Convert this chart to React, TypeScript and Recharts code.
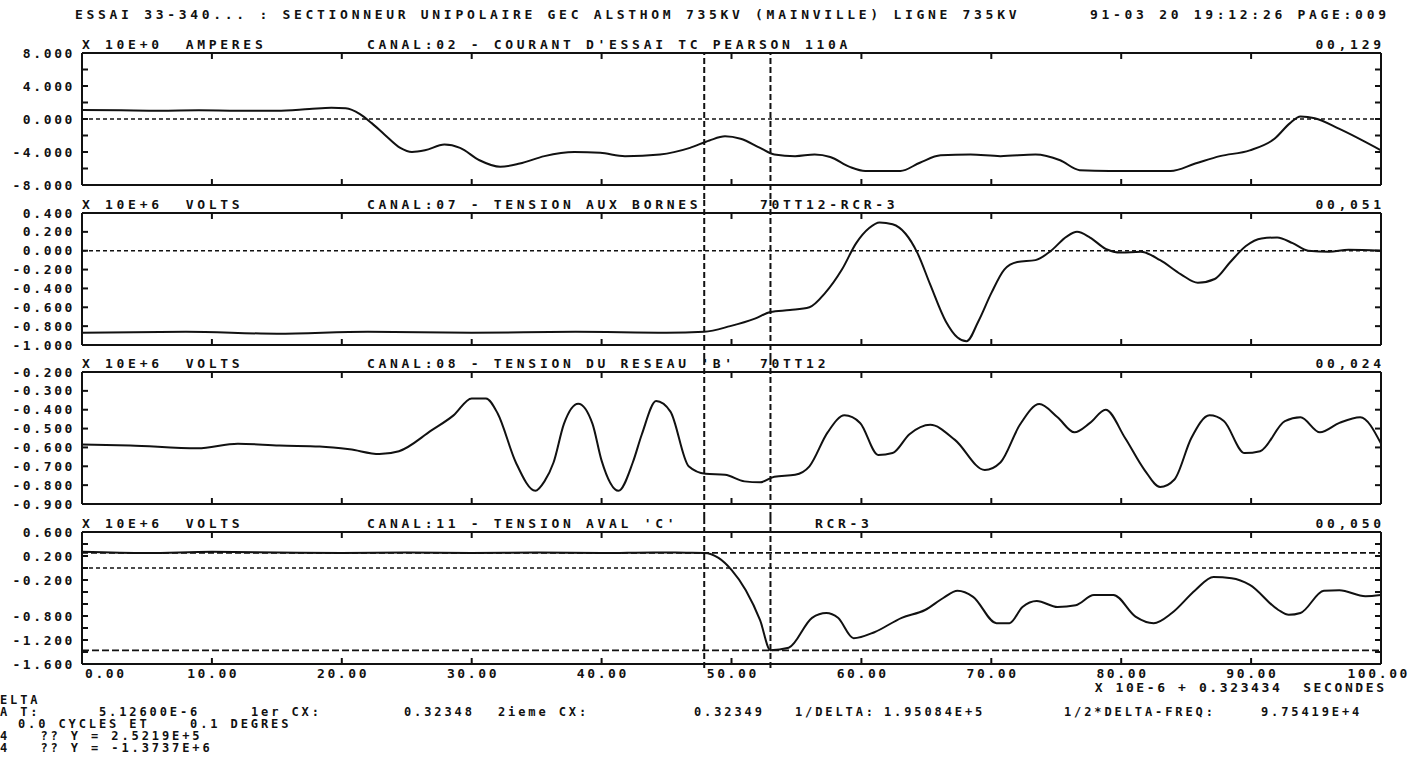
import React from 'react';
import { LineChart, Line, XAxis, YAxis, ReferenceLine } from 'recharts';

// ---------- data ----------
const X_TICKS = [0, 10, 20, 30, 40, 50, 60, 70, 80, 90, 100];
const CURSORS = [47.9, 53.0];
const CURSOR1_Y = 0.25219;
const CURSOR2_Y = -1.3737;

// CANAL:02 courant (A)
const ch02X = [0, 3, 6, 9, 12, 15, 17.5, 19.2, 20.3, 21.4, 22.3, 23.3, 24.5, 25.4, 26.4, 27.9, 29.1, 30.6, 32.2, 33.7, 35.6, 37.9, 39.9, 41.8, 44.5, 46.8, 48.3, 49.5, 50.7, 52.2, 53.3, 54.9, 56.4, 57.6, 59.1, 60.3, 63.0, 64.5, 66.1, 68.4, 70.7, 73.4, 75.3, 76.8, 79.1, 83.8, 85.7, 87.6, 89.9, 91.8, 93.0, 93.8, 94.9, 96.8, 100];
const ch02Y = [1.1, 1.05, 1.0, 1.05, 1.0, 1.0, 1.2, 1.35, 1.3, 0.6, -0.5, -1.9, -3.5, -4.0, -3.8, -3.1, -3.5, -5.0, -5.8, -5.4, -4.5, -4.0, -4.1, -4.5, -4.3, -3.5, -2.6, -2.1, -2.4, -3.5, -4.3, -4.5, -4.3, -4.6, -5.8, -6.3, -6.3, -5.3, -4.4, -4.3, -4.5, -4.3, -5.0, -6.2, -6.3, -6.3, -5.4, -4.5, -3.8, -2.4, -0.5, 0.3, 0.1, -1.2, -3.8];

// CANAL:07 tension aux bornes (x 10E+6 V)
const ch07X = [0, 8, 15, 22, 30, 38, 45, 47.9, 49.9, 51.8, 53.0, 54.5, 56.0, 57.2, 58.5, 59.6, 60.6, 61.4, 62.4, 63.4, 64.3, 65.3, 66.5, 67.4, 68.1, 69.0, 70.0, 71.0, 72.0, 73.4, 74.6, 75.8, 76.6, 77.6, 78.8, 80.0, 81.5, 83.0, 84.6, 85.9, 87.2, 88.4, 89.6, 90.8, 92.0, 93.2, 94.4, 96.0, 97.5, 100];
const ch07Y = [-0.87, -0.86, -0.88, -0.86, -0.87, -0.86, -0.87, -0.86, -0.80, -0.72, -0.65, -0.63, -0.60, -0.45, -0.20, 0.08, 0.24, 0.30, 0.28, 0.18, -0.02, -0.36, -0.75, -0.92, -0.96, -0.75, -0.45, -0.20, -0.12, -0.10, 0.00, 0.15, 0.20, 0.14, 0.02, -0.02, -0.01, -0.10, -0.25, -0.34, -0.30, -0.12, 0.05, 0.13, 0.14, 0.08, 0.00, -0.01, 0.01, 0.00];

// CANAL:08 tension du reseau 'B'
const ch08X = [0, 3.7, 8.9, 12.0, 15.2, 18.3, 20.6, 22.9, 24.4, 26.9, 28.6, 30.0, 31.1, 32.0, 33.4, 34.9, 35.6, 36.3, 37.1, 38.2, 39.3, 40.0, 41.3, 42.4, 43.1, 44.2, 45.3, 46.7, 48.0, 49.5, 51.0, 52.2, 53.3, 54.9, 56.0, 57.4, 58.7, 59.9, 61.3, 62.4, 63.7, 65.3, 67.2, 69.5, 70.7, 72.2, 73.7, 75.1, 76.4, 77.6, 78.8, 80.3, 81.8, 83.0, 84.1, 85.4, 86.8, 87.9, 89.5, 90.7, 92.6, 93.8, 95.3, 96.8, 98.4, 100];
const ch08Y = [-0.585, -0.59, -0.605, -0.58, -0.59, -0.595, -0.61, -0.635, -0.62, -0.51, -0.43, -0.34, -0.34, -0.42, -0.68, -0.83, -0.78, -0.68, -0.475, -0.368, -0.475, -0.67, -0.83, -0.68, -0.53, -0.354, -0.41, -0.70, -0.74, -0.745, -0.78, -0.785, -0.755, -0.745, -0.70, -0.52, -0.43, -0.47, -0.64, -0.63, -0.53, -0.48, -0.56, -0.72, -0.68, -0.48, -0.37, -0.44, -0.52, -0.47, -0.40, -0.55, -0.72, -0.81, -0.77, -0.55, -0.43, -0.46, -0.63, -0.62, -0.46, -0.44, -0.52, -0.47, -0.44, -0.58];

// CANAL:11 tension aval 'C'
const ch11X = [0, 5, 10, 15, 20, 25, 30, 35, 40, 44, 46.5, 47.9, 49.0, 50.0, 51.1, 52.2, 53.0, 54.4, 56.2, 57.3, 58.2, 59.4, 61.0, 63.1, 64.9, 66.3, 67.4, 68.6, 70.4, 71.4, 72.4, 73.5, 75.1, 76.5, 77.9, 79.4, 81.1, 82.5, 83.9, 85.7, 87.1, 88.5, 89.9, 92.1, 92.9, 93.8, 95.6, 96.8, 98.8, 100];
const ch11Y = [0.27, 0.25, 0.27, 0.26, 0.25, 0.26, 0.25, 0.26, 0.25, 0.26, 0.255, 0.252, 0.17, -0.03, -0.37, -0.87, -1.37, -1.33, -0.83, -0.75, -0.83, -1.17, -1.07, -0.83, -0.70, -0.50, -0.38, -0.48, -0.92, -0.92, -0.65, -0.55, -0.65, -0.62, -0.45, -0.45, -0.81, -0.92, -0.75, -0.37, -0.15, -0.17, -0.28, -0.70, -0.78, -0.75, -0.38, -0.37, -0.47, -0.45];

// axis ticks / labels
const ch02Ticks = [-8, -6, -4, -2, 0, 2, 4, 6, 8];
const ch02Labels = [8, 4, 0, -4, -8];
const ch07Ticks = [-1.0, -0.8, -0.6, -0.4, -0.2, 0, 0.2, 0.4];
const ch07Labels = [0.4, 0.2, 0, -0.2, -0.4, -0.6, -0.8, -1.0];
const ch08Ticks = [-0.9, -0.8, -0.7, -0.6, -0.5, -0.4, -0.3, -0.2];
const ch08Labels = [-0.2, -0.3, -0.4, -0.5, -0.6, -0.7, -0.8, -0.9];
const ch11Ticks = [-1.6, -1.4, -1.2, -1.0, -0.8, -0.6, -0.4, -0.2, 0, 0.2, 0.4, 0.6];
const ch11Labels = [0.6, 0.2, -0.2, -0.8, -1.2, -1.6];

// texts
const HEADER_LEFT = "ESSAI 33-340... : SECTIONNEUR UNIPOLAIRE GEC ALSTHOM 735KV (MAINVILLE) LIGNE 735KV";
const HEADER_RIGHT = "91-03 20 19:12:26 PAGE:009";
const UNITS = ["X 10E+0  AMPERES", "X 10E+6  VOLTS", "X 10E+6  VOLTS", "X 10E+6  VOLTS"];
const CHANNELS = ["CANAL:02 - COURANT D'ESSAI TC PEARSON 110A", "CANAL:07 - TENSION AUX BORNES", "CANAL:08 - TENSION DU RESEAU 'B'", "CANAL:11 - TENSION AVAL 'C'"];
const POINTS = ["", "70TT12-RCR-3", "70TT12", "RCR-3"];
const SCALES = ["00,129", "00,051", "00,024", "00,050"];
const X_TITLE = "X 10E-6 + 0.323434  SECONDES";

// ---------- layout / style ----------
const W = 1412;
const H_PAGE = 763;
const PLOT_H = 132;
const PANEL_TOPS = [53, 213, 372, 532];
const POINT_X = [0, 760, 760, 815];
const INK = '#111';
const FONT = '"DejaVu Sans Mono", "Liberation Mono", monospace';
const FS = 13;
const LS = 3.7; // titles / header
const LS_TICK = 2.6; // tick labels
const LS_INFO = 2.9; // bottom info block
const FS_INFO = 12;

type Pt = { x: number; v: number };
const zip = (xs: number[], ys: number[]): Pt[] =>
  xs.slice(0, Math.min(xs.length, ys.length)).map((x, i) => ({ x, v: ys[i] }));

const tickText: React.CSSProperties = {
  fontFamily: FONT,
  fontWeight: 700,
  fontSize: FS,
  letterSpacing: `${LS_TICK}px`,
  fill: INK,
};

const has = (arr: number[], v: number) => arr.some((a) => Math.abs(a - v) < 1e-6);

const LeftTick = (props: any) => {
  const { x, y, payload, labels } = props;
  const v = payload.value as number;
  return (
    <g>
      <line x1={x} y1={y} x2={x + 6} y2={y} stroke={INK} strokeWidth={2} />
      {has(labels, v) && (
        <text x={x - 7} y={y} textAnchor="end" dominantBaseline="central" style={tickText}>
          {v.toFixed(3)}
        </text>
      )}
    </g>
  );
};

const RightTick = (props: any) => {
  const { x, y } = props;
  return <line x1={x} y1={y} x2={x - 6} y2={y} stroke={INK} strokeWidth={2} />;
};

const TopTick = (props: any) => {
  const { x, y } = props;
  return <line x1={x} y1={y} x2={x} y2={y + 6} stroke={INK} strokeWidth={2} />;
};

const BottomTick = (props: any) => {
  const { x, y, payload, showLabels, index } = props;
  const v = payload.value as number;
  const first = index === 0;
  const last = index === X_TICKS.length - 1;
  return (
    <g>
      <line x1={x} y1={y} x2={x} y2={y - 6} stroke={INK} strokeWidth={2} />
      {showLabels && (
        <text
          x={first ? x + 3 : last ? x + 29 : x + LS_TICK / 2}
          y={y + 9}
          textAnchor={first ? 'start' : last ? 'end' : 'middle'}
          dominantBaseline="central"
          style={tickText}
        >
          {v.toFixed(2)}
        </text>
      )}
    </g>
  );
};

interface PanelCfg {
  top: number;
  domain: [number, number];
  yTicks: number[];
  yLabels: number[];
  hLines: { y: number; dash: string }[];
  data: Pt[];
  first: boolean;
  last: boolean;
}

function Panel({ cfg }: { cfg: PanelCfg }) {
  const mt = 19;
  const topAxisH = 1;
  const bottomAxisH = cfg.last ? 32 : 1;
  const mb = cfg.last ? 4 : 19;
  const H = mt + topAxisH + PLOT_H + bottomAxisH + mb;
  const [lo, hi] = cfg.domain;
  const perPx = (hi - lo) / PLOT_H;
  const segLo = cfg.last ? lo - 4 * perPx : lo - 14 * perPx;
  const segHi = cfg.first ? hi : hi + 14 * perPx;
  const axisLine = { stroke: INK, strokeWidth: 2 };
  return (
    <div style={{ position: 'absolute', left: 0, top: cfg.top - mt - topAxisH, width: W, height: H }}>
      <LineChart width={W} height={H} margin={{ top: mt, right: 30, bottom: mb, left: 2 }}>
        <XAxis
          xAxisId="b"
          type="number"
          dataKey="x"
          domain={[0, 100]}
          ticks={X_TICKS}
          interval={0}
          allowDataOverflow
          orientation="bottom"
          height={bottomAxisH}
          tickSize={0}
          tickMargin={0}
          tickLine={false}
          axisLine={axisLine}
          tick={(p: any) => <BottomTick {...p} showLabels={cfg.last} />}
        />
        <XAxis
          xAxisId="t"
          type="number"
          dataKey="x"
          domain={[0, 100]}
          ticks={X_TICKS}
          interval={0}
          allowDataOverflow
          orientation="top"
          height={topAxisH}
          tickSize={0}
          tickMargin={0}
          tickLine={false}
          axisLine={axisLine}
          tick={(p: any) => <TopTick {...p} />}
        />
        <YAxis
          yAxisId="l"
          type="number"
          domain={cfg.domain}
          ticks={cfg.yTicks}
          interval={0}
          allowDataOverflow
          width={80}
          tickSize={0}
          tickMargin={0}
          tickLine={false}
          axisLine={axisLine}
          tick={(p: any) => <LeftTick {...p} labels={cfg.yLabels} />}
        />
        <YAxis
          yAxisId="r"
          orientation="right"
          type="number"
          domain={cfg.domain}
          ticks={cfg.yTicks}
          interval={0}
          allowDataOverflow
          width={1}
          tickSize={0}
          tickMargin={0}
          tickLine={false}
          axisLine={axisLine}
          tick={(p: any) => <RightTick {...p} />}
        />
        {cfg.hLines.map((h, i) => (
          <ReferenceLine
            key={'h' + i}
            xAxisId="b"
            yAxisId="l"
            y={h.y}
            stroke={INK}
            strokeWidth={1.6}
            strokeDasharray={h.dash}
            ifOverflow="visible"
          />
        ))}
        {CURSORS.map((c, i) => (
          <ReferenceLine
            key={'c' + i}
            xAxisId="b"
            yAxisId="l"
            segment={[
              { x: c, y: segLo },
              { x: c, y: segHi },
            ]}
            stroke={INK}
            strokeWidth={2}
            strokeDasharray="6 3"
            ifOverflow="visible"
          />
        ))}
        <Line
          xAxisId="b"
          yAxisId="l"
          data={cfg.data}
          dataKey="v"
          type="monotone"
          stroke={INK}
          strokeWidth={2}
          dot={false}
          isAnimationActive={false}
        />
      </LineChart>
    </div>
  );
}

const Txt = ({
  x,
  y,
  children,
  right,
  ls = LS,
  fs = FS,
  lh = 14,
}: {
  x: number;
  y: number;
  children: React.ReactNode;
  right?: boolean;
  ls?: number;
  fs?: number;
  lh?: number;
}) => (
  <div
    style={{
      position: 'absolute',
      top: y - lh / 2,
      ...(right ? { right: W - x - ls } : { left: x }),
      fontFamily: FONT,
      fontWeight: 700,
      fontSize: fs,
      lineHeight: `${lh}px`,
      height: lh,
      letterSpacing: `${ls}px`,
      whiteSpace: 'pre',
      color: INK,
    }}
  >
    {children}
  </div>
);

const Info = ({ x, y, children }: { x: number; y: number; children: React.ReactNode }) => (
  <Txt x={x} y={y} ls={LS_INFO} fs={FS_INFO} lh={11}>
    {children}
  </Txt>
);

export default function App() {
  const panels: PanelCfg[] = [
    { top: PANEL_TOPS[0], domain: [-8, 8], yTicks: ch02Ticks, yLabels: ch02Labels, hLines: [{ y: 0, dash: '4 3' }], data: zip(ch02X, ch02Y), first: true, last: false },
    { top: PANEL_TOPS[1], domain: [-1.0, 0.4], yTicks: ch07Ticks, yLabels: ch07Labels, hLines: [{ y: 0, dash: '4 3' }], data: zip(ch07X, ch07Y), first: false, last: false },
    { top: PANEL_TOPS[2], domain: [-0.9, -0.2], yTicks: ch08Ticks, yLabels: ch08Labels, hLines: [], data: zip(ch08X, ch08Y), first: false, last: false },
    {
      top: PANEL_TOPS[3],
      domain: [-1.6, 0.6],
      yTicks: ch11Ticks,
      yLabels: ch11Labels,
      hLines: [
        { y: CURSOR1_Y, dash: '6 3' },
        { y: 0, dash: '4 3' },
        { y: CURSOR2_Y, dash: '7 3' },
      ],
      data: zip(ch11X, ch11Y),
      first: false,
      last: true,
    },
  ];

  return (
    <div style={{ position: 'absolute', left: 0, top: 0, width: W, height: H_PAGE, background: '#fff', overflow: 'hidden' }}>
      <Txt x={75} y={15}>{HEADER_LEFT}</Txt>
      <Txt x={1386} y={15} right>{HEADER_RIGHT}</Txt>
      {panels.map((p, i) => (
        <React.Fragment key={i}>
          <Txt x={82} y={p.top - 8}>{UNITS[i]}</Txt>
          <Txt x={367} y={p.top - 8}>{CHANNELS[i]}</Txt>
          {POINTS[i] && <Txt x={POINT_X[i]} y={p.top - 8}>{POINTS[i]}</Txt>}
          <Txt x={1381} y={p.top - 8} right>{SCALES[i]}</Txt>
          <Panel cfg={p} />
        </React.Fragment>
      ))}
      <Txt x={1384} y={688} right ls={LS_TICK} lh={12}>{X_TITLE}</Txt>
      <Info x={0} y={700}>ELTA</Info>
      <Info x={0} y={712}>A T:</Info>
      <Info x={99} y={712}>5.12600E-6</Info>
      <Info x={251} y={712}>1er CX:</Info>
      <Info x={404} y={712}>0.32348</Info>
      <Info x={498} y={712}>2ieme CX:</Info>
      <Info x={694} y={712}>0.32349</Info>
      <Info x={795} y={712}>1/DELTA:</Info>
      <Info x={884} y={712}>1.95084E+5</Info>
      <Info x={1064} y={712}>1/2*DELTA-FREQ:</Info>
      <Info x={1261} y={712}>9.75419E+4</Info>
      <Info x={18} y={724}>0.0 CYCLES ET    0.1 DEGRES</Info>
      <Info x={0} y={736}>4   ?? Y = 2.5219E+5</Info>
      <Info x={0} y={748}>4   ?? Y = -1.3737E+6</Info>
    </div>
  );
}
